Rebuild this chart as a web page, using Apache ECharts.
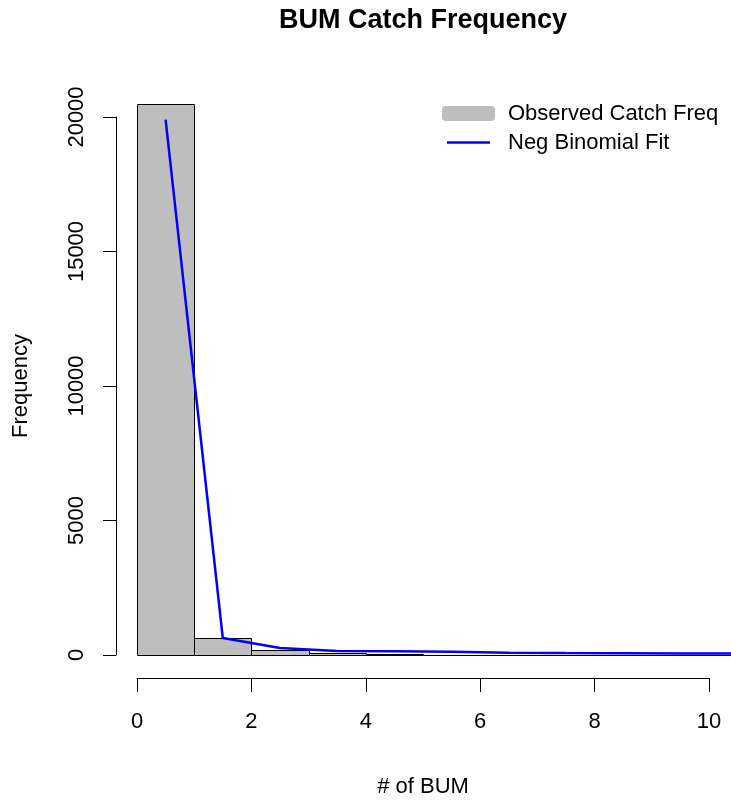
<!DOCTYPE html>
<html><head><meta charset="utf-8">
<script src="https://cdn.jsdelivr.net/npm/echarts@6/dist/echarts.min.js"></script>
<style>html,body{margin:0;padding:0;background:#fff}#c{width:731px;height:803px}</style>
</head><body><div id="c"></div>
<script>
// Histogram bins (number of BUM per set) and observed frequencies
const binStarts = [0, 1, 2, 3, 4, 5, 6, 7, 8, 9, 10];
const binEnds = [1, 2, 3, 4, 5, 6, 7, 8, 9, 10, 11];
const observedCounts = [20480, 640, 190, 65, 30, 15, 8, 5, 3, 2, 1];
// Negative binomial fitted frequencies (plotted at bin mid-points)
const fitX = [0.5, 1.5, 2.5, 3.5, 4.5, 5.5, 6.5, 7.5, 8.5, 9.5, 10.5];
const fitY = [19900, 632, 260, 150, 135, 120, 80, 70, 65, 60, 55];
const seriesNames = ['Observed Catch Freq', 'Neg Binomial Fit'];
// Axis ranges (the plot region runs past the last x tick and is cut at the image edge)
const xTickMax = 10, xVisibleMax = 10.385;
const yTickMax = 20000;

const FONT = '"Liberation Sans", Arial, sans-serif';
const chart = echarts.init(document.getElementById('c'), null, {renderer: 'canvas'});

const histData = binStarts.map((s, i) => [s, binEnds[i], observedCounts[i]]);
const fitData = fitX.map((x, i) => [x, fitY[i]]);
const plain = v => String(v);

chart.setOption({
  animation: false,
  backgroundColor: '#fff',
  textStyle: {fontFamily: FONT, color: '#000'},
  title: {
    text: 'BUM Catch Frequency',
    left: 423, top: 7, textAlign: 'center', padding: 0,
    textStyle: {fontFamily: FONT, fontSize: 27, fontWeight: 'bold', color: '#000'}
  },
  legend: [
    {
      data: [{name: seriesNames[0], icon: 'roundRect', itemStyle: {color: '#bebebe', borderWidth: 0}}],
      left: 442, top: 102, padding: 0, itemWidth: 53, itemHeight: 15,
      formatter: n => '{g|}' + n,
      textStyle: {fontFamily: FONT, fontSize: 22, color: '#000', lineHeight: 23, rich: {g: {width: 8}}}
    },
    {
      data: [{name: seriesNames[1], icon: 'rect'}],
      left: 447, top: 131, padding: 0, itemWidth: 43, itemHeight: 2.5,
      formatter: n => '{g|}' + n,
      textStyle: {fontFamily: FONT, fontSize: 22, color: '#000', lineHeight: 23, rich: {g: {width: 13}}}
    }
  ],
  grid: [
    {left: 137, right: 22, top: 117, bottom: 148, containLabel: false},
    {left: 137, right: 0, top: 117, bottom: 148, containLabel: false}
  ],
  xAxis: [
    {
      gridIndex: 0, type: 'value', min: 0, max: xTickMax, interval: 2, offset: 23,
      axisLine: {show: true, onZero: false, lineStyle: {color: '#000', width: 1}},
      axisTick: {show: true, length: 14, lineStyle: {color: '#000', width: 1}},
      axisLabel: {fontFamily: FONT, fontSize: 22, color: '#000', margin: 33, formatter: plain},
      splitLine: {show: false},
      name: '# of BUM', nameLocation: 'middle', nameGap: 98,
      nameTextStyle: {fontFamily: FONT, fontSize: 22, color: '#000'}
    },
    {
      gridIndex: 1, type: 'value', min: 0, max: xVisibleMax, show: false
    }
  ],
  yAxis: [
    {
      gridIndex: 0, type: 'value', min: 0, max: yTickMax, interval: 5000, offset: 21,
      axisLine: {show: true, onZero: false, lineStyle: {color: '#000', width: 1}},
      axisTick: {show: true, length: 13, lineStyle: {color: '#000', width: 1}},
      axisLabel: {fontFamily: FONT, fontSize: 22, color: '#000', margin: 28, rotate: 90, formatter: plain},
      splitLine: {show: false},
      name: 'Frequency', nameLocation: 'middle', nameGap: 84, nameRotate: 90,
      nameTextStyle: {fontFamily: FONT, fontSize: 22, color: '#000'}
    },
    {
      gridIndex: 1, type: 'value', min: 0, max: yTickMax, show: false
    }
  ],
  series: [
    {
      name: seriesNames[0], type: 'custom', clip: false,
      xAxisIndex: 1, yAxisIndex: 1,
      itemStyle: {color: '#bebebe'},
      encode: {x: [0, 1], y: 2},
      data: histData,
      renderItem: function (params, api) {
        const p0 = api.coord([api.value(0), api.value(2)]);
        const p1 = api.coord([api.value(1), 0]);
        const x0 = Math.round(p0[0]) + 0.5, x1 = Math.round(p1[0]) + 0.5;
        const y0 = Math.round(p0[1]) + 0.5, y1 = Math.round(p1[1]) + 0.5;
        return {
          type: 'rect',
          shape: {x: x0, y: y0, width: x1 - x0, height: y1 - y0},
          style: {fill: '#bebebe', stroke: '#000', lineWidth: 1}
        };
      }
    },
    {
      name: seriesNames[1], type: 'line', clip: false, z: 5,
      xAxisIndex: 1, yAxisIndex: 1,
      symbol: 'none', color: '#0000ff',
      lineStyle: {color: '#0000ff', width: 2.5},
      data: fitData
    }
  ]
});
</script></body></html>
